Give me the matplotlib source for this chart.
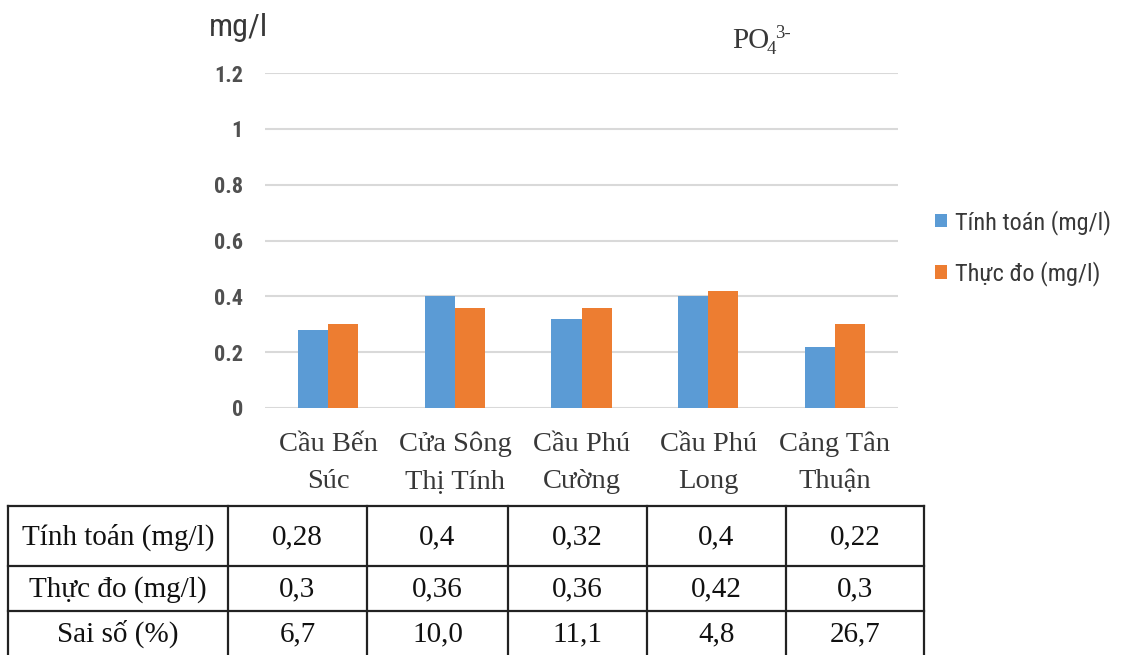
import matplotlib
matplotlib.use("Agg")
import matplotlib.pyplot as plt
import numpy as np
from matplotlib import font_manager

names = {f.name for f in font_manager.fontManager.ttflist}
SANS = 'Open Sans'
for cand in ['Roboto Condensed', 'Liberation Sans Narrow', 'Open Sans Condensed', 'DejaVu Sans Condensed', 'Roboto']:
    if cand in names:
        SANS = cand
        break
SERIF = 'Liberation Serif'

categories = ["Cầu Bến\nSúc", "Cửa Sông\nThị Tính", "Cầu Phú\nCường", "Cầu Phú\nLong", "Cảng Tân\nThuận"]
tinh_toan = [0.28, 0.40, 0.32, 0.40, 0.22]
thuc_do = [0.30, 0.36, 0.36, 0.42, 0.30]
sai_so = ["6,7", "10,0", "11,1", "4,8", "26,7"]
row_labels = ["Tính toán (mg/l)", "Thực đo (mg/l)", "Sai số (%)"]
tinh_toan_txt = ["0,28", "0,4", "0,32", "0,4", "0,22"]
thuc_do_txt = ["0,3", "0,36", "0,36", "0,42", "0,3"]
yticks = [0, 0.2, 0.4, 0.6, 0.8, 1.0, 1.2]
ytick_labels = ["0", "0.2", "0.4", "0.6", "0.8", "1", "1.2"]

W, H = 1130, 655
fig = plt.figure(figsize=(W / 100, H / 100), dpi=100)
fig.patch.set_facecolor('white')

def px(x, y):
    return x / W, 1 - y / H

ax = fig.add_axes([265 / W, 1 - 408 / H, (898 - 265) / W, (408 - 73) / H])
x = np.arange(len(categories))
bw = 0.237
ax.bar(x - bw / 2, tinh_toan, bw, color='#5B9BD5', label='Tính toán (mg/l)', zorder=3)
ax.bar(x + bw / 2, thuc_do, bw, color='#ED7D31', label='Thực đo (mg/l)', zorder=3)
ax.set_xlim(-0.5, len(categories) - 0.5)
ax.set_ylim(0, 1.2)
ax.set_yticks(yticks)
ax.set_yticklabels(ytick_labels, fontsize=16, family=SANS, color='#505050', weight='bold')
ax.grid(axis='y', color='#D9D9D9', linewidth=1.5, zorder=0)
for s in ax.spines.values():
    s.set_visible(False)
ax.tick_params(axis='y', length=0, pad=16)
ax.tick_params(axis='x', length=0, pad=17)
ax.set_xticks(x)
ax.set_xticklabels(categories, fontsize=20.5, family=SERIF, color='#383838', linespacing=1.65)

# y unit label
fig.text(*px(209, 28), "mg/l", fontsize=23, family=SANS, color='#383838', va='center', ha='left')

# title PO4 3-
fig.text(*px(732, 41), "PO", fontsize=21, family=SERIF, color='#383838', va='center', ha='left')
fig.text(*px(767, 49), "4", fontsize=13.5, family=SERIF, color='#383838', va='center', ha='left')
fig.text(*px(775, 33), "3-", fontsize=13.5, family=SERIF, color='#383838', va='center', ha='left')

# legend
leg = ax.legend(loc='upper left', bbox_to_anchor=(925 / W, 1 - 200 / H), bbox_transform=fig.transFigure,
                frameon=False, prop={'family': SANS, 'size': 17.5}, handlelength=0.5, handleheight=0.5,
                handletextpad=0.35, labelspacing=1.1, labelcolor='#383838', borderaxespad=0)

# table
col_x = [8, 228, 367, 508, 647, 786, 924]
row_y = [506, 566, 611, 655]
lw = 1.6
for yy in row_y[:-1]:
    fig.add_artist(plt.Line2D([col_x[0] / W, col_x[-1] / W], [1 - yy / H, 1 - yy / H], color='#222222', lw=lw))
for xx in col_x:
    fig.add_artist(plt.Line2D([xx / W, xx / W], [1 - row_y[0] / H, 0], color='#222222', lw=lw))

rows = [tinh_toan_txt, thuc_do_txt, sai_so]
for r in range(3):
    yc = (row_y[r] + row_y[r + 1]) / 2 + 1
    fig.text(*px((col_x[0] + col_x[1]) / 2, yc), row_labels[r], fontsize=21, family=SERIF,
             color='#111111', ha='center', va='center')
    for c in range(5):
        fig.text(*px((col_x[c + 1] + col_x[c + 2]) / 2, yc), rows[r][c], fontsize=21, family=SERIF,
                 color='#111111', ha='center', va='center')

fig.savefig('out.png', dpi=100)
